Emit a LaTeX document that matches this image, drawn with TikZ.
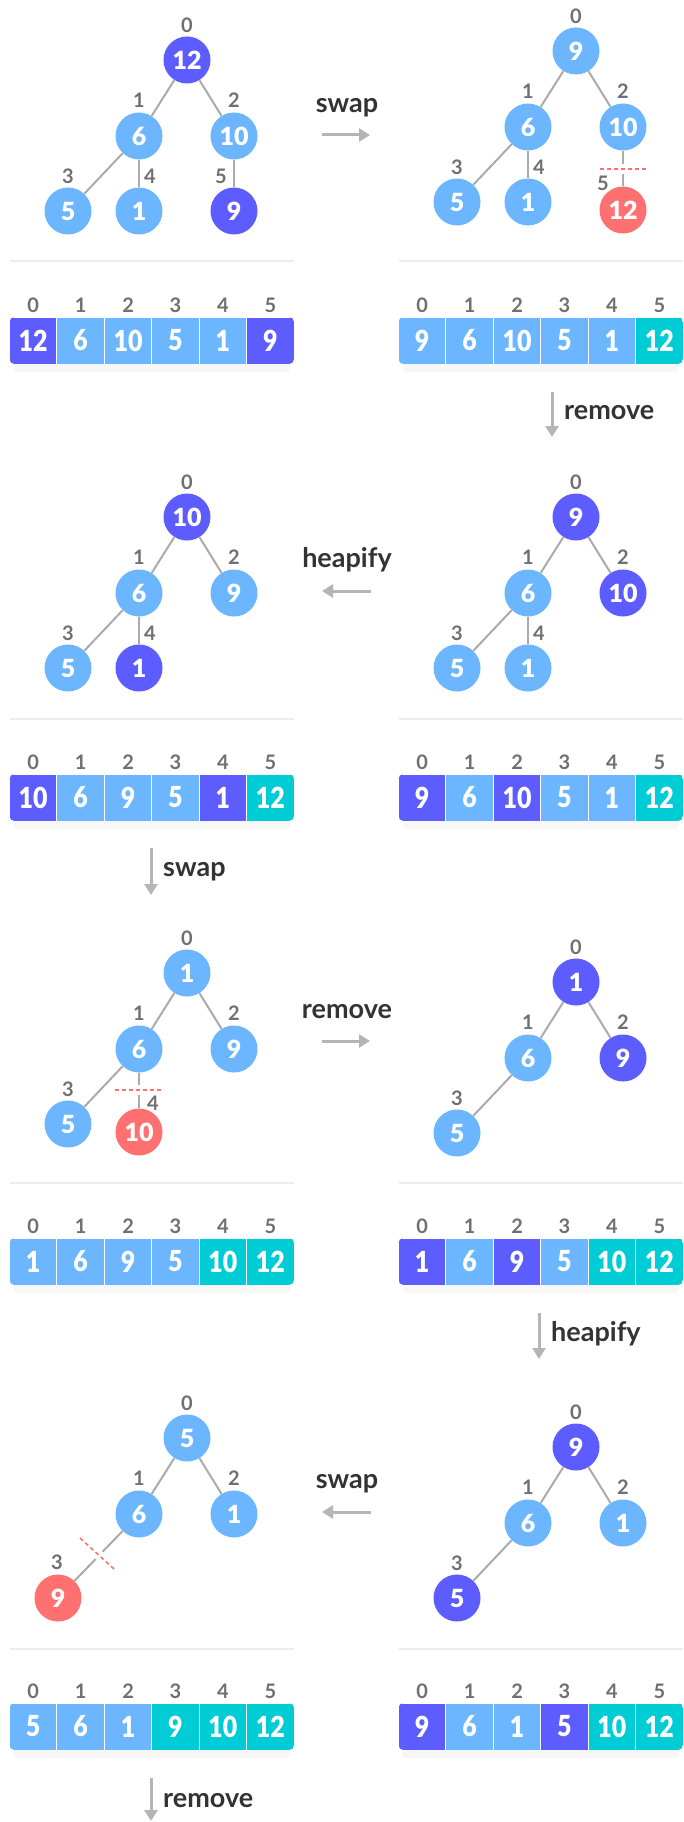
\documentclass[tikz,border=0pt]{standalone}
\usepackage{fontspec}
\setmainfont{Lato}
\newfontfamily\heavyfont{Lato Black}
\newfontfamily\cellfont{Lato Black}[FakeStretch=0.86]
\usetikzlibrary{arrows.meta}
\definecolor{hdark}{HTML}{5C5CFF}
\definecolor{hlight}{HTML}{6BB6FF}
\definecolor{hred}{HTML}{FF7070}
\definecolor{hteal}{HTML}{00CCD6}
\definecolor{inkg}{HTML}{707070}
\definecolor{lineg}{HTML}{ABABAB}
\definecolor{arrg}{HTML}{B5B5B5}
\definecolor{ink}{HTML}{333333}
\definecolor{rule}{HTML}{EDEDED}
\tikzset{
  hn/.style={circle, minimum size=47pt, inner sep=0pt, text=white, font=\fontsize{25}{25}\selectfont\heavyfont},
  ndk/.style={hn, fill=hdark}, nlt/.style={hn, fill=hlight}, nrd/.style={hn, fill=hred},
  cell/.style={rectangle, minimum width=47.42pt, minimum height=47pt, inner sep=0pt, draw=white, line width=1pt,
    text=white, font=\fontsize{29}{29}\selectfont\cellfont},
  idx/.style={inner sep=0pt, text=inkg, font=\fontsize{20}{20}\selectfont\bfseries},
  tedge/.style={draw=lineg, line width=2pt},
  gapwhite/.style={draw=white, line width=10pt},
  cutline/.style={draw=hred, line width=1.6pt, dash pattern=on 4pt off 3pt},
  flow/.style={draw=arrg, line width=3pt, -{Triangle[length=11pt, width=13pt]}},
  lbl/.style={inner sep=0pt, text=ink, font=\fontsize{27}{27}\selectfont\bfseries}}

% tree: name, root position, index/value/style
\newcommand\heaptree[3]{%
  \begin{scope}[shift={#2}]
    \foreach \k/\v/\s in {#3}{
      \pgfmathsetmacro\px{{0,-48,47,-119,-48,47}[\k]}
      \pgfmathsetmacro\py{{0,76,76,151,151,151}[\k]}
      \pgfmathsetmacro\lx{{0,-48,47,-119,-37,34}[\k]}
      \pgfmathsetmacro\ly{{-35,40,40,116,116,116}[\k]}
      \node[\s] (#1n\k) at (\px,\py) {\v};
      \node[idx] (#1i\k) at (\lx,\ly) {\k};
      \ifnum\k>0 \pgfmathtruncatemacro\pk{(\k-1)/2}\draw[tedge] (#1n\pk) -- (#1n\k);\fi}
  \end{scope}}

% array: name, left x, top y, value/colour
\newcommand\heaparr[4]{%
  \fill[black!3, rounded corners=4pt] (#2+4,#3+42) rectangle (#2+280.5,#3+55);
  \begin{scope}
    \clip[rounded corners=5pt] (#2,#3) rectangle (#2+284.5,#3+47);
    \foreach \v/\c [count=\i from 0] in {#4}
      \node[cell, fill=\c] (#1c\i) at (#2+23.71+47.42*\i,#3+23.5) {\v};
  \end{scope}
  \foreach \i in {0,...,5}
    \node[idx] (#1i\i) at (#2+23.71+47.42*\i,#3-12) {\i};}

\begin{document}
\begin{tikzpicture}[x=1pt, y=-1pt, line cap=butt]
  \useasboundingbox[fill=white] (0,0) rectangle (683,1822);

  % separators
  \foreach \y in {261,719,1183,1649}{
    \draw[rule, line width=2pt] (9.5,\y) -- (294,\y);
    \draw[rule, line width=2pt] (398.5,\y) -- (683,\y);}

  % row 1
  \heaptree{p1}{(187,60)}{0/12/ndk,1/6/nlt,2/10/nlt,3/5/nlt,4/1/nlt,5/9/ndk}
  \heaptree{p2}{(576,51)}{0/9/nlt,1/6/nlt,2/10/nlt,3/5/nlt,4/1/nlt}
  \begin{scope}[shift={(576,51)}]
    \node[nrd] (p2n5) at (47,159) {12};
    \node[idx] (p2i5) at (27,132) {5};
    \coordinate (p2ca) at (24,118); \coordinate (p2cb) at (71,118);
  \end{scope}
  \draw[tedge] (p2n2) -- (p2n5);
  \draw[gapwhite] (p2ca) -- (p2cb); \draw[cutline] (p2ca) -- (p2cb);
  \heaparr{a1}{9.5}{317}{12/hdark,6/hlight,10/hlight,5/hlight,1/hlight,9/hdark}
  \heaparr{a2}{398.5}{317}{9/hlight,6/hlight,10/hlight,5/hlight,1/hlight,12/hteal}

  % row 2
  \heaptree{p3}{(187,517)}{0/10/ndk,1/6/nlt,2/9/nlt,3/5/nlt,4/1/ndk}
  \heaptree{p4}{(576,517)}{0/9/ndk,1/6/nlt,2/10/ndk,3/5/nlt,4/1/nlt}
  \heaparr{a3}{9.5}{774}{10/hdark,6/hlight,9/hlight,5/hlight,1/hdark,12/hteal}
  \heaparr{a4}{398.5}{774}{9/hdark,6/hlight,10/hdark,5/hlight,1/hlight,12/hteal}

  % row 3
  \heaptree{p5}{(187,973)}{0/1/nlt,1/6/nlt,2/9/nlt,3/5/nlt}
  \begin{scope}[shift={(187,973)}]
    \node[nrd] (p5n4) at (-48,159) {10};
    \node[idx] (p5i4) at (-34,130) {4};
    \coordinate (p5ca) at (-72,117); \coordinate (p5cb) at (-24,117);
  \end{scope}
  \draw[tedge] (p5n1) -- (p5n4);
  \draw[gapwhite] (p5ca) -- (p5cb); \draw[cutline] (p5ca) -- (p5cb);
  \heaptree{p6}{(576,982)}{0/1/ndk,1/6/nlt,2/9/ndk,3/5/nlt}
  \heaparr{a5}{9.5}{1238}{1/hlight,6/hlight,9/hlight,5/hlight,10/hteal,12/hteal}
  \heaparr{a6}{398.5}{1238}{1/hdark,6/hlight,9/hdark,5/hlight,10/hteal,12/hteal}

  % row 4
  \heaptree{p7}{(187,1438)}{0/5/nlt,1/6/nlt,2/1/nlt}
  \begin{scope}[shift={(187,1438)}]
    \node[nrd] (p7n3) at (-129,160) {9};
    \node[idx] (p7i3) at (-130,124) {3};
    \coordinate (p7ca) at (-107,100); \coordinate (p7cb) at (-73,131);
  \end{scope}
  \draw[tedge] (p7n1) -- (p7n3);
  \draw[gapwhite] (p7ca) -- (p7cb); \draw[cutline] (p7ca) -- (p7cb);
  \heaptree{p8}{(576,1447)}{0/9/ndk,1/6/nlt,2/1/nlt,3/5/ndk}
  \heaparr{a7}{9.5}{1703}{5/hlight,6/hlight,1/hlight,9/hteal,10/hteal,12/hteal}
  \heaparr{a8}{398.5}{1703}{9/hdark,6/hlight,1/hlight,5/hdark,10/hteal,12/hteal}

  % step arrows
  \foreach \n/\xa/\ya/\xb/\yb in {h1/322/135/370/135, h2/371/591/322/591, h3/322/1041/370/1041,
      h4/371/1512/322/1512, v1/552/392/552/437, v2/151/848/151/895, v3/539/1313/539/1359, v4/151/1778/151/1821}{
    \coordinate (\n a) at (\xa,\ya); \coordinate (\n b) at (\xb,\yb);
    \draw[flow] (\n a) -- (\n b);}
  \foreach \n/\x/\y/\t in {t1/347/113/swap, t2/347/567/heapify, t3/347/1018/remove, t4/347/1488/swap}
    \node[lbl, anchor=base] (\n) at (\x,\y) {\t};
  \foreach \n/\x/\y/\t in {t5/564/419/remove, t6/163/876/swap, t7/551/1341/heapify, t8/163/1807/remove}
    \node[lbl, anchor=base west] (\n) at (\x,\y) {\t};
\end{tikzpicture}
\end{document}
